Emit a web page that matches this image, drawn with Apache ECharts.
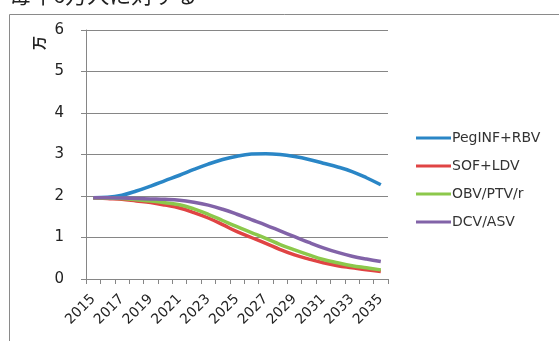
<!DOCTYPE html>
<html>
<head>
<meta charset="utf-8">
<script src="https://cdn.jsdelivr.net/npm/echarts@6/dist/echarts.min.js"></script>
<style>
html,body{margin:0;padding:0;background:#fff;}
#chart{width:559px;height:341px;}
</style>
</head>
<body>
<div id="chart"></div>
<script>
// Years on the category axis
const years = ['2015','2016','2017','2018','2019','2020','2021','2022','2023','2024','2025',
               '2026','2027','2028','2029','2030','2031','2032','2033','2034','2035'];

// Values per regimen (万)
const pegInfRbv = [1.96,1.97,2.02,2.12,2.24,2.37,2.50,2.64,2.77,2.88,2.96,3.01,3.02,3.00,2.95,2.88,2.79,2.70,2.59,2.44,2.27];
const sofLdv    = [1.96,1.94,1.92,1.88,1.84,1.78,1.71,1.60,1.47,1.31,1.14,1.00,0.86,0.71,0.58,0.48,0.39,0.32,0.27,0.22,0.18];
const obvPtvR   = [1.96,1.95,1.94,1.91,1.88,1.84,1.79,1.69,1.56,1.41,1.26,1.12,0.98,0.83,0.70,0.58,0.47,0.39,0.32,0.27,0.22];
const dcvAsv    = [1.96,1.96,1.95,1.94,1.93,1.92,1.90,1.85,1.78,1.68,1.56,1.43,1.30,1.16,1.02,0.88,0.75,0.64,0.55,0.48,0.42];

const seriesNames = ['PegINF+RBV','SOF+LDV','OBV/PTV/r','DCV/ASV'];
const seriesData = [pegInfRbv, sofLdv, obvPtvR, dcvAsv];
const colors = ['#2A86C6','#E04444','#8CC84B','#8263A8'];

const yTicks = [0,1,2,3,4,5,6];

const font = 'DejaVu Sans, Verdana, sans-serif';
const chart = echarts.init(document.getElementById('chart'));

chart.setOption({
  animation: false,
  color: colors,
  graphic: [
    { type: 'rect', left: 7, top: 12, silent: true,
      shape: { width: 600, height: 400 },
      style: { fill: 'none', stroke: '#8a8a8a', lineWidth: 1 } },
    { type: 'text', left: 9, top: -16, silent: true,
      style: { text: '毎年6万人に対する', fill: '#222', font: '22px "Noto Sans CJK JP", sans-serif' } },
    { type: 'text', x: 39, y: 43, rotation: Math.PI / 2, silent: true,
      style: { text: '万', fill: '#222', font: 'bold 14px "Noto Sans CJK JP", sans-serif',
               align: 'center', verticalAlign: 'middle' } }
  ],
  grid: { left: 86, top: 30, right: 171, bottom: 62 },
  legend: {
    orient: 'vertical', left: 411, top: 126,
    itemWidth: 35, itemHeight: 3, itemGap: 14,
    icon: 'rect',
    textStyle: { fontFamily: font, fontSize: 14, color: '#333', padding: [0, 0, 0, -4], lineHeight: 14 },
    data: seriesNames
  },
  xAxis: {
    type: 'category', data: years, boundaryGap: true,
    axisLine: { lineStyle: { color: '#868686', width: 1 } },
    axisTick: { show: true, length: 5, interval: 0, lineStyle: { color: '#868686' } },
    axisLabel: { interval: 1, rotate: 45, margin: 18, fontFamily: font, fontSize: 14, color: '#222' }
  },
  yAxis: {
    type: 'value', min: yTicks[0], max: yTicks[yTicks.length - 1], interval: 1,
    axisLine: { show: true, lineStyle: { color: '#868686', width: 1 } },
    axisTick: { show: true, length: 5, lineStyle: { color: '#868686' } },
    axisLabel: { margin: 22, fontFamily: font, fontSize: 15, color: '#222' },
    splitLine: { lineStyle: { color: '#868686', width: 1 } }
  },
  series: seriesNames.map((name, i) => ({
    name, type: 'line', data: seriesData[i], smooth: 0.4,
    showSymbol: false, symbol: 'none',
    lineStyle: { width: 3.5, color: colors[i] },
    itemStyle: { color: colors[i] }
  }))
});
</script>
</body>
</html>
